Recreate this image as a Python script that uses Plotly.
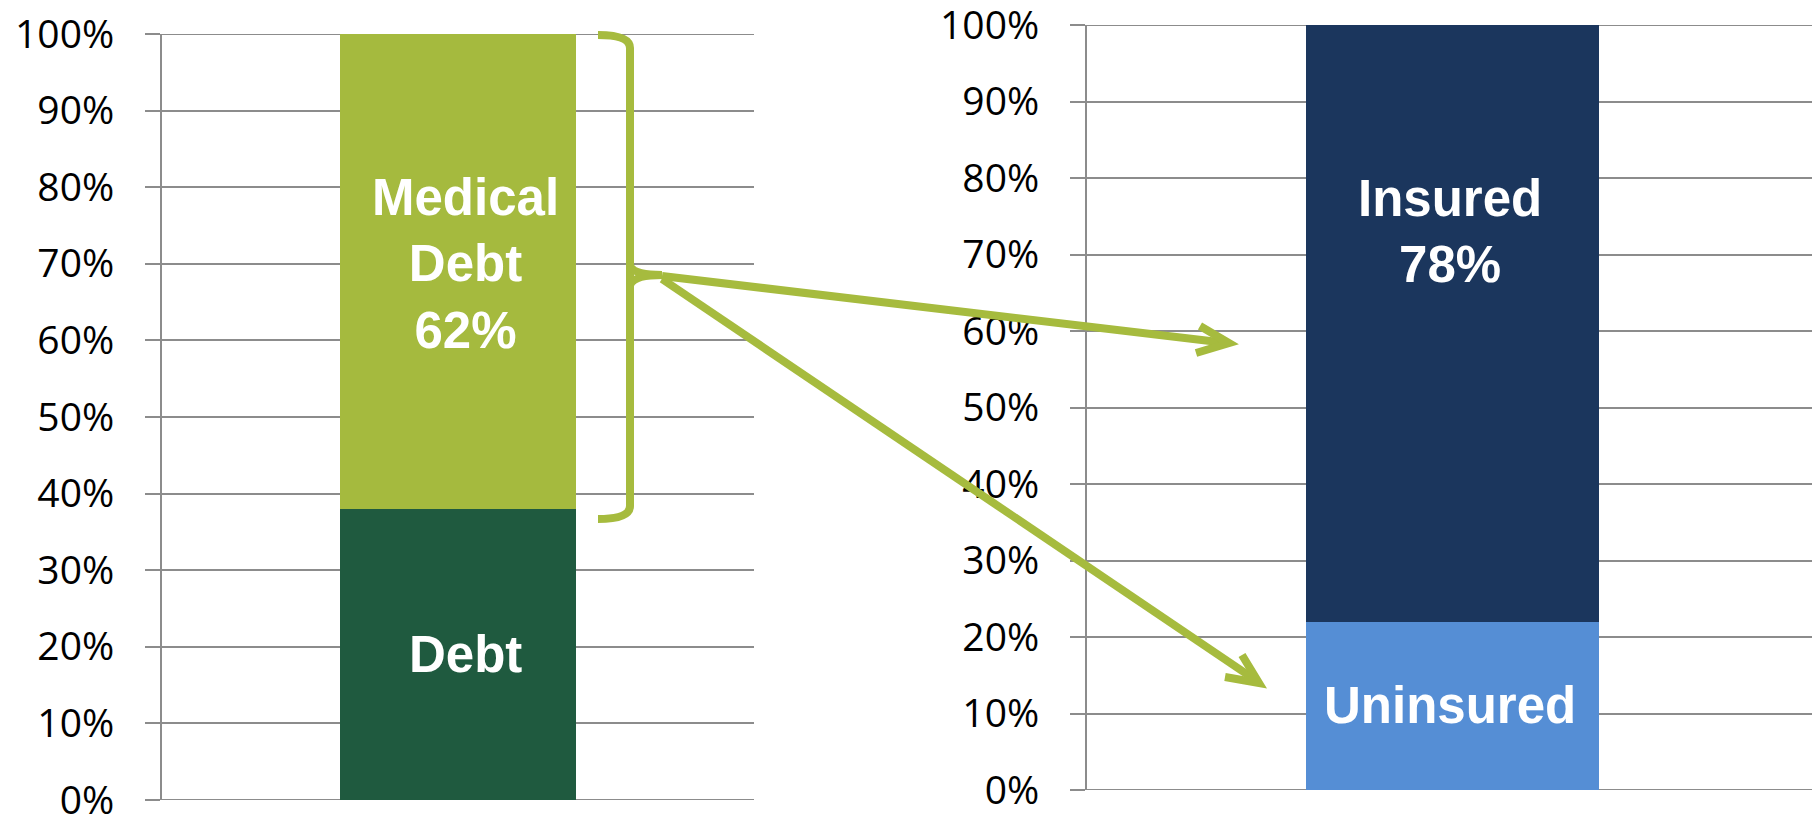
import plotly.graph_objects as go

# ---- data ----
left_segments = ["Debt", "Medical Debt"]
left_values = [38, 62]
left_colors = ["#1F5A3F", "#A5BA3E"]
left_labels = ["Debt", "Medical<br>Debt<br>62%"]

right_segments = ["Uninsured", "Insured"]
right_values = [22, 78]
right_colors = ["#558ED5", "#1B365D"]
right_labels = ["Uninsured", "Insured<br>78%"]

tick_values = [0, 10, 20, 30, 40, 50, 60, 70, 80, 90, 100]
tick_labels = [f"{v}%" for v in tick_values]

W, H = 1820, 818
OX, OY = 8, 8          # page body margin offset of the plot div
GRID = "#8C8C8C"
ACCENT = "#A6BB3E"


def px(x):
    """screen pixel x -> paper fraction"""
    return (x - OX) / W


def py(y):
    """screen pixel y (from top) -> paper fraction"""
    return 1 - (y - OY) / H


fig = go.Figure()

for name, val, col in zip(left_segments, left_values, left_colors):
    fig.add_trace(go.Bar(x=[0], y=[val], name=name, marker_color=col,
                         marker_line_width=0, width=0.4,
                         xaxis="x", yaxis="y", showlegend=False, hoverinfo="name+y"))
for name, val, col in zip(right_segments, right_values, right_colors):
    fig.add_trace(go.Bar(x=[0], y=[val], name=name, marker_color=col,
                         marker_line_width=0, width=0.4,
                         xaxis="x2", yaxis="y2", showlegend=False, hoverinfo="name+y"))

yax = dict(range=[0, 100], tickvals=tick_values, ticktext=tick_labels,
           showgrid=True, gridcolor=GRID, gridwidth=2,
           showline=True, linecolor=GRID, linewidth=2,
           ticks="outside", ticklen=15, tickwidth=2, tickcolor=GRID,
           zeroline=False, ticklabelstandoff=23, automargin=False,
           ticklabeloverflow="allow",
           tickfont=dict(family="Open Sans", size=39, color="#000000"),
           fixedrange=True)
xax = dict(range=[-0.5, 0.5], showticklabels=False, showgrid=False,
           zeroline=False, showline=False, ticks="", fixedrange=True,
           automargin=False)

fig.update_layout(
    width=W, height=H,
    margin=dict(l=0, r=0, t=0, b=0),
    paper_bgcolor="white", plot_bgcolor="white",
    barmode="stack",
    xaxis=dict(domain=[px(162), px(754)], anchor="y", **xax),
    yaxis=dict(domain=[py(800), py(34)], anchor="x", **yax),
    xaxis2=dict(domain=[px(1087), min(1.0, px(1818))], anchor="y2", **xax),
    yaxis2=dict(domain=[py(790), py(25)], anchor="x2", **yax),
)

# ---- segment labels ----
label_font = dict(family="Liberation Sans, Arial, sans-serif", size=51, color="white")
left_label_y = [19, 70]
right_label_y = [11, 73]
for txt, yy in zip(left_labels, left_label_y):
    fig.add_annotation(x=0, y=yy, xref="x", yref="y", text=f"<b>{txt}</b>",
                       showarrow=False, font=label_font, align="center", xshift=7)
for txt, yy in zip(right_labels, right_label_y):
    fig.add_annotation(x=0, y=yy, xref="x2", yref="y2", text=f"<b>{txt}</b>",
                       showarrow=False, font=label_font, align="center", xshift=-3)

shapes = []
# edge gridlines (0% and 100%) that plotly omits at the range ends
for xr, yr in (("x domain", "y"), ("x2 domain", "y2")):
    for v in (tick_values[0], tick_values[-1]):
        shapes.append(dict(type="line", xref=xr, yref=yr, x0=0, x1=1, y0=v, y1=v,
                           line=dict(color=GRID, width=2), layer="below"))

# ---- bracket and arrows (decoration) ----
line = dict(color=ACCENT, width=8)


def P(x, y):
    return f"{px(x):.5f},{py(y):.5f}"


shapes.append(dict(type="path", xref="paper", yref="paper", line=line,
                   path=f"M {P(598, 35)} Q {P(630, 35)} {P(630, 48)} "
                        f"L {P(630, 506)} Q {P(630, 519)} {P(598, 519)}"))
shapes.append(dict(type="path", xref="paper", yref="paper", line=line,
                   path=f"M {P(630, 266)} Q {P(634, 275)} {P(662, 275)} "
                        f"Q {P(634, 275)} {P(630, 285)}"))
# arrow 1
shapes.append(dict(type="path", xref="paper", yref="paper", line=line,
                   path=f"M {P(662, 276)} L {P(1227, 343)}"))
shapes.append(dict(type="path", xref="paper", yref="paper", line=line,
                   path=f"M {P(1200, 326)} L {P(1229, 343)} L {P(1196, 353)}"))
# arrow 2
shapes.append(dict(type="path", xref="paper", yref="paper", line=line,
                   path=f"M {P(662, 279)} L {P(1257, 681)}"))
shapes.append(dict(type="path", xref="paper", yref="paper", line=line,
                   path=f"M {P(1242, 655)} L {P(1259, 683)} L {P(1225, 677)}"))
fig.update_layout(shapes=shapes)

fig.write_html("out.html")
